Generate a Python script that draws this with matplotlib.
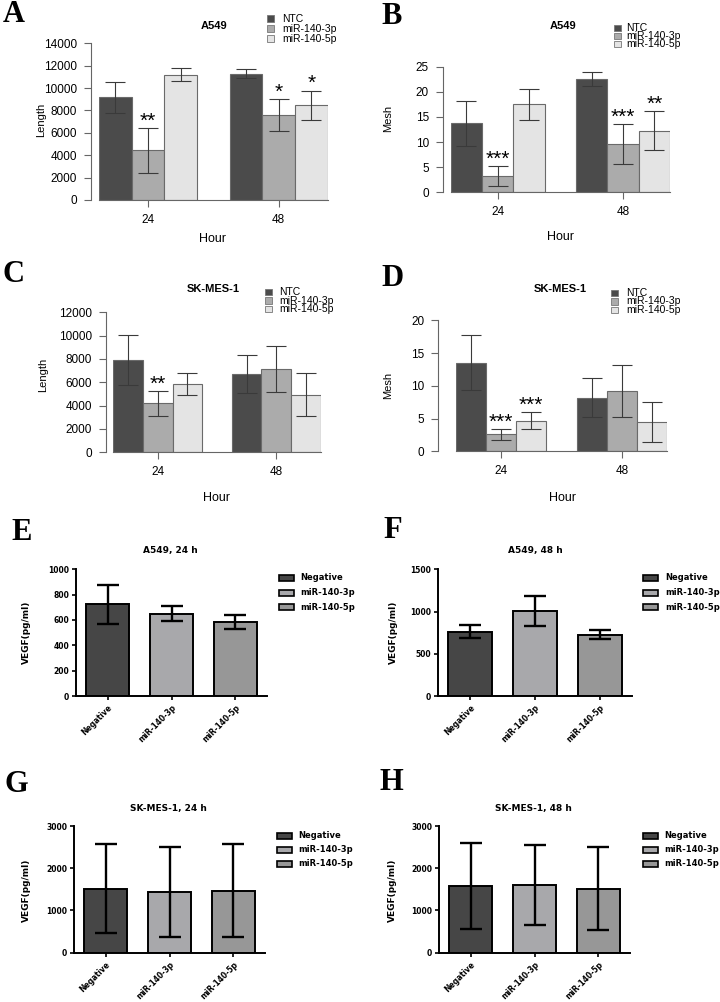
import matplotlib.pyplot as plt
import numpy as np
from matplotlib.patches import Rectangle

W, H = 720, 1002

# ---- data: panels A-D (rows = hour, cols = NTC / miR-140-3p / miR-140-5p)
hours = ['24', '48']
groups_ad = ['NTC', 'miR-140-3p', 'miR-140-5p']

a_mean = [[9170, 4440, 11200], [11290, 7570, 8460]]
a_err = [[1360, 2030, 570], [400, 1440, 1320]]
a_stars = [['', '**', ''], ['', '*', '*']]

b_mean = [[13.7, 3.2, 17.5], [22.5, 9.55, 12.3]]
b_err = [[4.5, 1.95, 3.05], [1.4, 4.0, 3.85]]
b_stars = [['', '***', ''], ['', '***', '**']]

c_mean = [[7910, 4200, 5830], [6690, 7140, 4940]]
c_err = [[2170, 1090, 960], [1630, 1960, 1840]]
c_stars = [['', '**', ''], ['', '', '']]

d_mean = [[13.5, 2.6, 4.7], [8.2, 9.2, 4.5]]
d_err = [[4.2, 0.85, 1.25], [3.0, 3.95, 3.05]]
d_stars = [['', '***', '***'], ['', '', '']]

# ---- data: panels E-H (VEGF)
groups_eh = ['Negative', 'miR-140-3p', 'miR-140-5p']
e_mean = [726, 650, 582]
e_err = [154, 57, 54]
f_mean = [762, 1006, 726]
f_err = [73, 173, 53]
g_mean = [1516, 1437, 1468]
g_err = [1050, 1054, 1098]
h_mean = [1579, 1611, 1516]
h_err = [1026, 947, 975]

colors_ad = ['#4b4b4b', '#ababab', '#e4e4e4']
colors_eh = ['#464646', '#a8a8ab', '#979797']

SANS = 'Liberation Sans'
BOLD = 'DejaVu Sans'

fig = plt.figure(figsize=(W / 100, H / 100), dpi=100)


def px_axes(x0, y0, x1, y1):
    return fig.add_axes([x0 / W, 1 - y1 / H, (x1 - x0) / W, (y1 - y0) / H])


def fig_text(x, y, s, **kw):
    fig.text(x / W, 1 - y / H, s, **kw)


def legend_px(xb, xt, ys, labels, colors, bw, bh, ec, lw, **kw):
    for y, lab, c in zip(ys, labels, colors):
        fig.add_artist(Rectangle((xb / W, 1 - (y + bh / 2) / H), bw / W, bh / H,
                                 transform=fig.transFigure, fc=c, ec=ec, lw=lw))
        fig_text(xt, y, lab, va='center', ha='left', **kw)


def r_panel(box, yaxis_x, mean, err, stars, ymax, ystep):
    ax = px_axes(*box)
    mean = np.array(mean)
    err = np.array(err)
    gpos = np.array([0, 4])
    for k in range(3):
        x = gpos + k + 0.5
        ax.bar(x, mean[:, k], width=1, color=colors_ad[k], edgecolor='#6a6a6a', lw=0.8)
        ax.errorbar(x, mean[:, k], yerr=err[:, k], fmt='none', ecolor='#3a3a3a',
                    elinewidth=0.8, capsize=7, capthick=0.8, clip_on=False)
        for g in range(2):
            if stars[g][k]:
                ax.annotate(stars[g][k], (x[g], mean[g, k] + err[g, k]), xytext=(0, -2),
                            textcoords='offset points', ha='center', va='bottom',
                            fontsize=15, family=SANS, annotation_clip=False)
    ax.set_xlim(0, 7)
    ax.set_ylim(0, ymax)
    for s in ['top', 'right']:
        ax.spines[s].set_visible(False)
    ax.spines['left'].set_position(('outward', (box[0] - yaxis_x) * 0.72))
    ax.spines['left'].set_bounds(0, ymax)
    for s in ['left', 'bottom']:
        ax.spines[s].set_color('#666666')
        ax.spines[s].set_linewidth(0.8)
    ax.set_yticks(np.arange(0, ymax + 1e-9, ystep))
    ax.set_xticks(gpos + 1.5)
    ax.set_xticklabels(hours)
    ax.tick_params(axis='y', length=5, width=0.8, color='#666666', pad=5, labelsize=8.5)
    ax.tick_params(axis='x', length=5, width=0.8, color='#666666', pad=5, labelsize=8.5)
    for lab in ax.get_xticklabels() + ax.get_yticklabels():
        lab.set_family(SANS)
    ax.patch.set_alpha(0)
    return ax


def vegf_panel(box, mean, err, ymax, ystep):
    ax = px_axes(*box)
    x = np.arange(3)
    ax.bar(x, mean, width=0.68, color=colors_eh, edgecolor='black', lw=1.4,
           yerr=err, capsize=8,
           error_kw=dict(elinewidth=1.7, capthick=1.7, ecolor='black'))
    ax.set_xlim(-0.5, 2.5)
    ax.set_ylim(0, ymax)
    for s in ['top', 'right']:
        ax.spines[s].set_visible(False)
    for s in ['left', 'bottom']:
        ax.spines[s].set_linewidth(1.4)
    ax.set_yticks(np.arange(0, ymax + 1e-9, ystep))
    ax.set_xticks(x)
    ax.set_xticklabels(groups_eh, rotation=45, ha='right', rotation_mode='anchor')
    ax.tick_params(length=3, width=1.2, pad=2, labelsize=5.5)
    for lab in ax.get_xticklabels() + ax.get_yticklabels():
        lab.set_family(BOLD)
        lab.set_fontweight('bold')
    return ax


# ---- A
r_panel((99, 43.3, 327.7, 200), 90.7, a_mean, a_err, a_stars, 14000, 2000)
fig_text(41, 120, 'Length', rotation=90, ha='center', va='center', fontsize=8, family=SANS)
fig_text(214, 26, 'A549', ha='center', va='center', fontsize=8, fontweight='bold', family=SANS)
fig_text(213, 239, 'Hour', ha='center', va='center', fontsize=9, family=SANS)
legend_px(267, 282, [18.5, 28.5, 38.5], groups_ad, colors_ad, 6.5, 6, '#777777', 0.6,
          fontsize=7.5, family=SANS)

# ---- B
r_panel((450.7, 66.7, 670, 192.3), 442.7, b_mean, b_err, b_stars, 25, 5)
fig_text(388, 118, 'Mesh', rotation=90, ha='center', va='center', fontsize=8, family=SANS)
fig_text(563, 26, 'A549', ha='center', va='center', fontsize=8, fontweight='bold', family=SANS)
fig_text(560, 237, 'Hour', ha='center', va='center', fontsize=9, family=SANS)
legend_px(614, 626, [28.3, 36.3, 44.3], groups_ad, colors_ad, 6.5, 6, '#777777', 0.6,
          fontsize=7.5, family=SANS)

# ---- C
r_panel((113.3, 312.3, 320.7, 452.3), 106, c_mean, c_err, c_stars, 12000, 2000)
fig_text(43, 375, 'Length', rotation=90, ha='center', va='center', fontsize=8, family=SANS)
fig_text(213, 289, 'SK-MES-1', ha='center', va='center', fontsize=8, fontweight='bold', family=SANS)
fig_text(217, 498, 'Hour', ha='center', va='center', fontsize=9, family=SANS)
legend_px(265, 279, [292, 300.5, 309], groups_ad, colors_ad, 6.5, 6, '#777777', 0.6,
          fontsize=7.5, family=SANS)

# ---- D
r_panel((455.7, 320.3, 667.3, 451.3), 438.3, d_mean, d_err, d_stars, 20, 5)
fig_text(388, 385, 'Mesh', rotation=90, ha='center', va='center', fontsize=8, family=SANS)
fig_text(560, 289, 'SK-MES-1', ha='center', va='center', fontsize=8, fontweight='bold', family=SANS)
fig_text(562, 498, 'Hour', ha='center', va='center', fontsize=9, family=SANS)
legend_px(611, 626, [293, 301.5, 310], groups_ad, colors_ad, 6.5, 6, '#777777', 0.6,
          fontsize=7.5, family=SANS)

# ---- E-H
vegf_specs = [
    ((76, 569.3, 267, 696), e_mean, e_err, 1000, 200, 'A549, 24 h', 170, 551,
     26, 632, 279, 300, [578, 592.5, 607]),
    ((438, 569.3, 632, 696), f_mean, f_err, 1500, 500, 'A549, 48 h', 535, 551,
     393, 632, 643, 665, [578, 592.5, 607]),
    ((74, 826, 265, 952.7), g_mean, g_err, 3000, 1000, 'SK-MES-1, 24 h', 168, 808,
     26, 890, 277, 298, [836, 850, 864]),
    ((439, 826, 630, 952.7), h_mean, h_err, 3000, 1000, 'SK-MES-1, 48 h', 533, 808,
     392, 890, 643, 664, [836, 850, 864]),
]
for box, m, e, ymax, ystep, title, tx, ty, lx, ly, xb, xt, ys in vegf_specs:
    vegf_panel(box, m, e, ymax, ystep)
    fig_text(tx, ty, title, ha='center', va='center', fontsize=6.5, fontweight='bold', family=BOLD)
    fig_text(lx, ly, 'VEGF(pg/ml)', rotation=90, ha='center', va='center', fontsize=6.5,
             fontweight='bold', family=BOLD)
    legend_px(xb, xt, ys, groups_eh, colors_eh, 15, 6, 'black', 1.2,
              fontsize=6, fontweight='bold', family=BOLD)

# ---- panel letters
letters = [('A', 14, 15), ('B', 392, 16), ('C', 14, 275), ('D', 393, 278),
           ('E', 22, 532), ('F', 393, 531), ('G', 16, 784), ('H', 391, 783)]
for s, x, y in letters:
    fig_text(x, y, s, ha='center', va='center', fontsize=22, fontweight='bold',
             family='Liberation Serif')

fig.savefig('out.png', dpi=100, facecolor='white')
